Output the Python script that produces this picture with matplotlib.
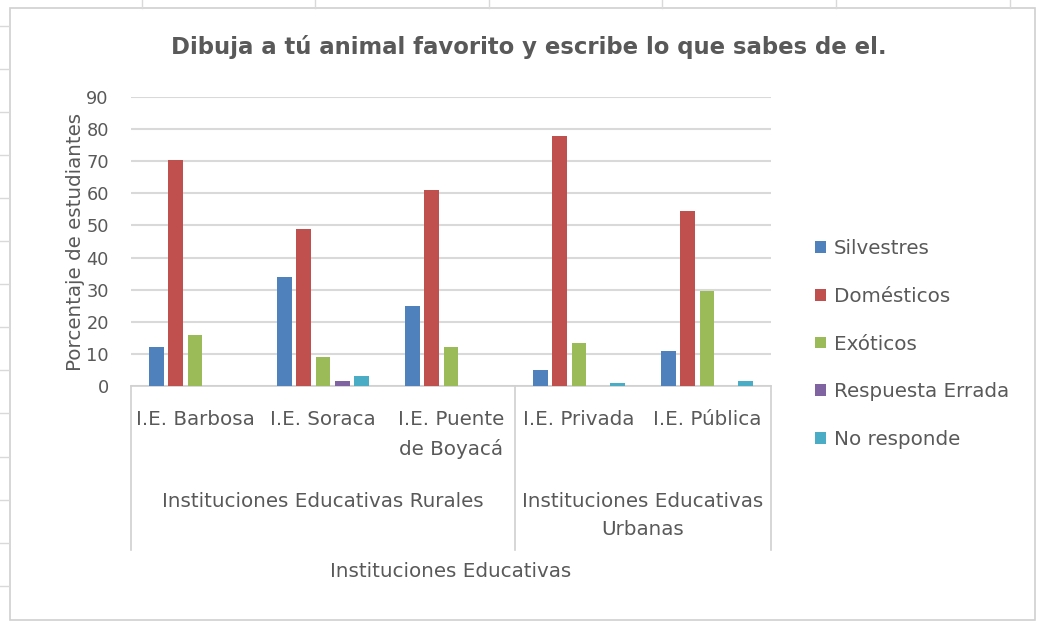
import matplotlib
matplotlib.use("Agg")
import matplotlib.pyplot as plt
from matplotlib import transforms
from matplotlib.lines import Line2D
from matplotlib.patches import Rectangle
import numpy as np

plt.rcParams['font.family'] = ['DejaVu Sans']

categories = ["I.E. Barbosa", "I.E. Soraca", "I.E. Puente\nde Boyacá", "I.E. Privada", "I.E. Pública"]
groups = ["Instituciones Educativas Rurales", "Instituciones Educativas\nUrbanas"]
group_spans = [(0, 2), (3, 4)]
series_names = ["Silvestres", "Domésticos", "Exóticos", "Respuesta Errada", "No responde"]
silvestres = [12, 34, 25, 5, 11]
domesticos = [70.5, 49, 61, 78, 54.5]
exoticos = [15.8, 9, 12, 13.5, 29.5]
errada = [0, 1.5, 0, 0, 0]
no_responde = [0, 3, 0, 0.8, 1.6]
series = [silvestres, domesticos, exoticos, errada, no_responde]
colors = ["#4F81BD", "#C0504D", "#9BBB59", "#8064A2", "#4BACC6"]
yticks = list(range(0, 91, 10))

W, H = 1039, 623
fig = plt.figure(figsize=(W / 100, H / 100), dpi=100)
fig.patch.set_facecolor("white")

def fx(px):
    return px / W

def fy(py):
    return (H - py) / H

FS = 14.3
TXT = "#595959"

# faint spreadsheet grid outside chart
for xv in [142, 315, 489, 662, 836, 1010]:
    fig.add_artist(Line2D([fx(xv), fx(xv)], [fy(0), fy(8)], color="#d9d9d9", lw=1))
for yv in [26, 69, 112, 155, 198, 241, 284, 327, 370, 413, 457, 500, 543, 586]:
    fig.add_artist(Line2D([fx(0), fx(9)], [fy(yv), fy(yv)], color="#d9d9d9", lw=1))

# chart border
fig.add_artist(Rectangle((fx(10), fy(620)), fx(1035) - fx(10), fy(8) - fy(620),
                         fill=False, edgecolor="#d0d0d0", lw=1.2))

ax_l, ax_r, ax_t, ax_b = 131, 771, 97, 386
ax = fig.add_axes([fx(ax_l), fy(ax_b), fx(ax_r) - fx(ax_l), fy(ax_t) - fy(ax_b)])

x = np.arange(len(categories))
step = 0.151
width = 0.117
for i, (name, vals, c) in enumerate(zip(series_names, series, colors)):
    ax.bar(x + (i - 2) * step, vals, width=width, color=c, label=name, zorder=3)

ax.set_xlim(-0.5, len(categories) - 0.5)
ax.set_ylim(0, 90)
ax.set_yticks(yticks)
ax.set_yticklabels([str(t) for t in yticks])
ax.tick_params(axis='y', length=0, pad=16, labelsize=12.8, labelcolor=TXT)
ax.set_xticks([])
ax.grid(axis='y', color="#d9d9d9", lw=1.5, zorder=0)
for s in ["top", "right", "left"]:
    ax.spines[s].set_visible(False)
ax.spines["bottom"].set_color("#d0d0d0")
ax.spines["bottom"].set_linewidth(1.2)

ax.set_ylabel("Porcentaje de estudiantes", fontsize=14.3, color=TXT, labelpad=1)

# multi-level category axis
blend = transforms.blended_transform_factory(ax.transData, fig.transFigure)
for xb in [-0.5, 2.5, 4.5]:
    ax.add_line(Line2D([xb, xb], [fy(386), fy(550)], transform=blend, color="#d0d0d0",
                       lw=1.2, clip_on=False))
for xi, lab in zip(x, categories):
    ax.text(xi, fy(410), lab, transform=blend, ha="center", va="top", fontsize=FS,
            color=TXT, linespacing=1.6)
for (a, b), g in zip(group_spans, groups):
    ax.text((a + b) / 2, fy(492), g, transform=blend, ha="center", va="top", fontsize=FS,
            color=TXT, linespacing=1.6)
ax.text(2, fy(562), "Instituciones Educativas", transform=blend, ha="center", va="top",
        fontsize=FS, color=TXT)

fig.text(fx(529), fy(47), "Dibuja a tú animal favorito y escribe lo que sabes de el.",
         ha="center", va="center", fontsize=16.4, fontweight="bold", color=TXT)

leg = ax.legend(loc="upper left", bbox_to_anchor=(fx(807), fy(231)), bbox_transform=fig.transFigure,
                frameon=False, fontsize=FS, labelcolor=TXT, handlelength=0.55,
                handleheight=0.55, handletextpad=0.4, labelspacing=1.45, borderaxespad=0)

fig.savefig("out.png", dpi=100, facecolor="white")
